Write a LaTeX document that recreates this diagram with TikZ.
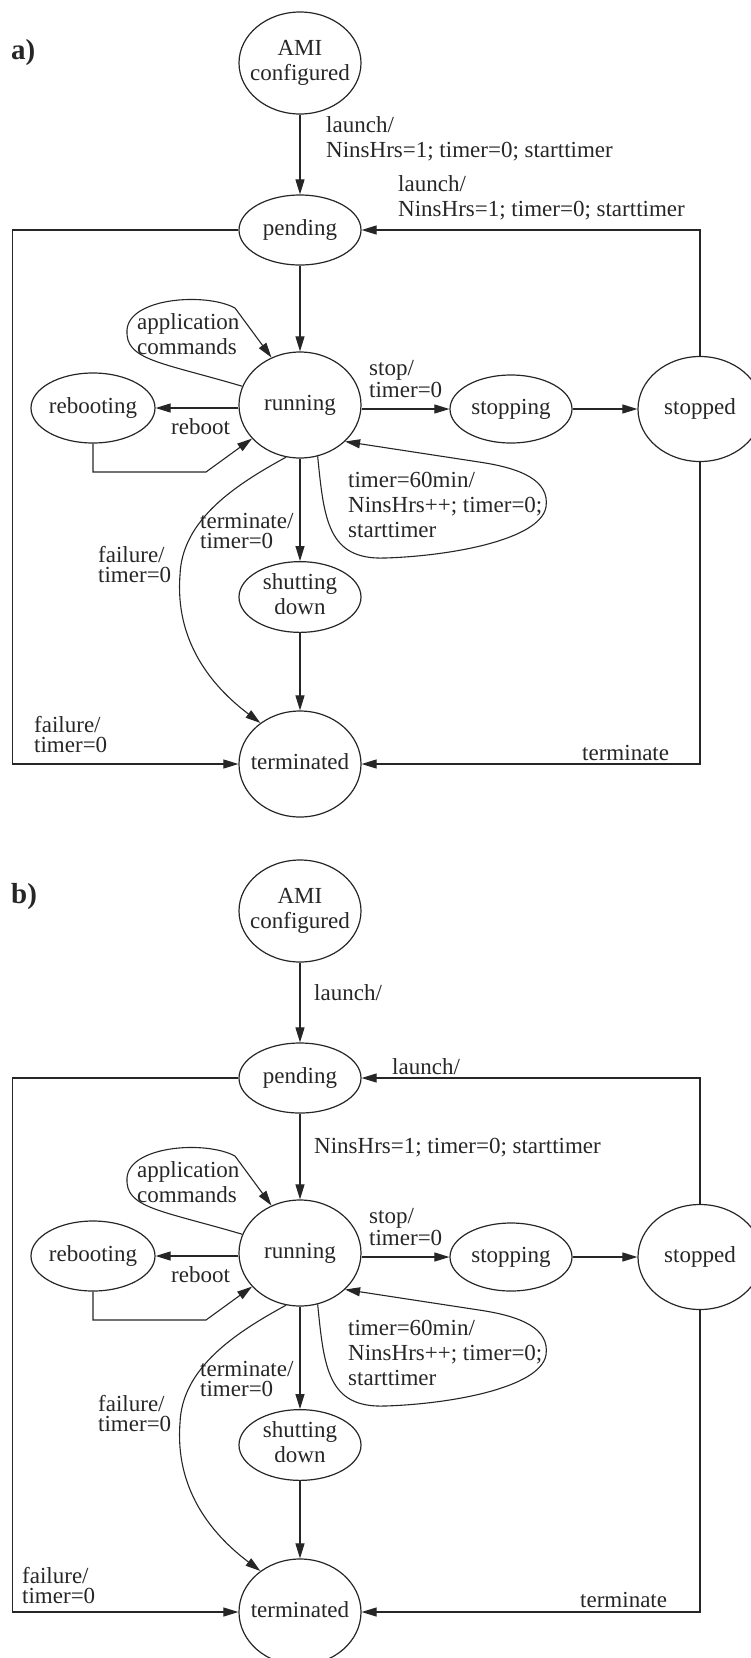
\documentclass[tikz,border=0pt]{standalone}
\usepackage{fontspec}
\setmainfont{Liberation Serif}
\usetikzlibrary{shapes.geometric,arrows.meta}
\newcommand\zw[1]{\makebox[0pt]{\begin{tabular}{@{}c@{}}#1\end{tabular}}}
\colorlet{ink}{black!85}
\tikzset{
  st/.style={draw=ink, text=ink, ellipse, line width=1.2pt, inner sep=0pt},
  arr/.style={draw=ink, line width=1.1pt, -{Triangle[length=15pt,width=9pt]}},
  lbl/.style={anchor=west, align=left, inner sep=0pt, text=ink},
  tightls/.style={font=\fontsize{23}{20}\selectfont},
  panellbl/.style={anchor=west, inner sep=0pt, text=ink, font=\fontsize{29}{30}\selectfont\bfseries},
}
\newcommand\panelcommon{%
  \node[st,minimum width=122pt,minimum height=102pt] (ami) at (300,63) {\zw{AMI\\configured}};
  \node[st,minimum width=122pt,minimum height=70pt] (pending) at (300,230) {\zw{pending}};
  \node[st,minimum width=122pt,minimum height=106pt] (running) at (300,405) {\zw{running}};
  \node[st,minimum width=124pt,minimum height=70pt] (rebooting) at (93,408) {\zw{rebooting}};
  \node[st,minimum width=122pt,minimum height=68pt] (stopping) at (511,409) {\zw{stopping}};
  \node[st,minimum width=124pt,minimum height=105pt] (stopped) at (700,409) {\zw{stopped}};
  \node[st,minimum width=122pt,minimum height=70pt] (shutting) at (300,597) {\zw{shutting\\down}};
  \node[st,minimum width=122pt,minimum height=106pt] (terminated) at (300,764) {\zw{terminated}};
  \draw[arr] (ami) -- (pending);
  \draw[arr] (pending) -- (running);
  \draw[arr] (running) -- (shutting);
  \draw[arr] (shutting) -- (terminated);
  \draw[arr] (running.west |- rebooting) -- (rebooting);
  \draw[arr] (running.east |- stopping) -- (stopping);
  \draw[arr] (stopping) -- (stopped);
  \draw[arr] (stopped.north) |- (pending.east);
  \draw[arr] (stopped.south) |- (terminated.east);
  \draw[arr] (pending.west) -- ++(-226,0) |- (terminated.west);
  \draw[arr] (rebooting.south) |- (206,472) -- (running.-145);
  \draw[arr] (running.162) .. controls (160,362) and (125,360) .. (127,330)
     .. controls (129,298) and (205,292) .. (235,308) -- (running.121);
  \draw[arr] (running.-71) .. controls (324,520) and (328,560) .. (385,558)
     .. controls (450,556) and (540,540) .. (546,507)
     .. controls (550,480) and (520,468) .. (479,462) -- (running.-39);
  \draw[arr] (running.-105) .. controls (235,485) and (182,520) .. (180,575)
     .. controls (175,640) and (210,685) .. (terminated.134);
  \node[lbl] (lapp) at (137,334) {application\\commands};
  \node[lbl,tightls] (lstop) at (369,379) {stop/\\timer=0};
  \node[lbl] (lreboot) at (171,427) {reboot};
  \node[lbl] (ltimer) at (348,505) {timer=60min/\\NinsHrs++; timer=0;\\starttimer};
  \node[lbl,tightls] (lterm) at (200,531) {terminate/\\timer=0};
  \node[lbl,tightls] (lfail) at (98,565) {failure/\\timer=0};
}
\begin{document}
\begin{tikzpicture}[x=1pt,y=-1pt,font=\fontsize{23}{25}\selectfont]
\clip (0,0) rectangle (751,1658);
\node[panellbl] (pa) at (11,53) {a)};
\node[panellbl] (pb) at (11,897) {b)};
\begin{scope}[name prefix=a-]
  \panelcommon
  \node[lbl] (llaunch) at (326,139) {launch/\\NinsHrs=1; timer=0; starttimer};
  \node[lbl] (lrelaunch) at (398,198) {launch/\\NinsHrs=1; timer=0; starttimer};
  \node[lbl,tightls] (lfail2) at (34,735) {failure/\\timer=0};
  \node[lbl] (lterm2) at (582,753) {terminate};
\end{scope}
\begin{scope}[name prefix=b-, yshift=-848pt]
  \panelcommon
  \node[lbl] (llaunch) at (314,145) {launch/};
  \node[lbl] (lrelaunch) at (392,219) {launch/};
  \node[lbl] (linit) at (314,300) {NinsHrs=1; timer=0; starttimer};
  \node[lbl,tightls] (lfail2) at (22,737) {failure/\\timer=0};
  \node[lbl] (lterm2) at (580,752) {terminate};
\end{scope}
\end{tikzpicture}
\end{document}
